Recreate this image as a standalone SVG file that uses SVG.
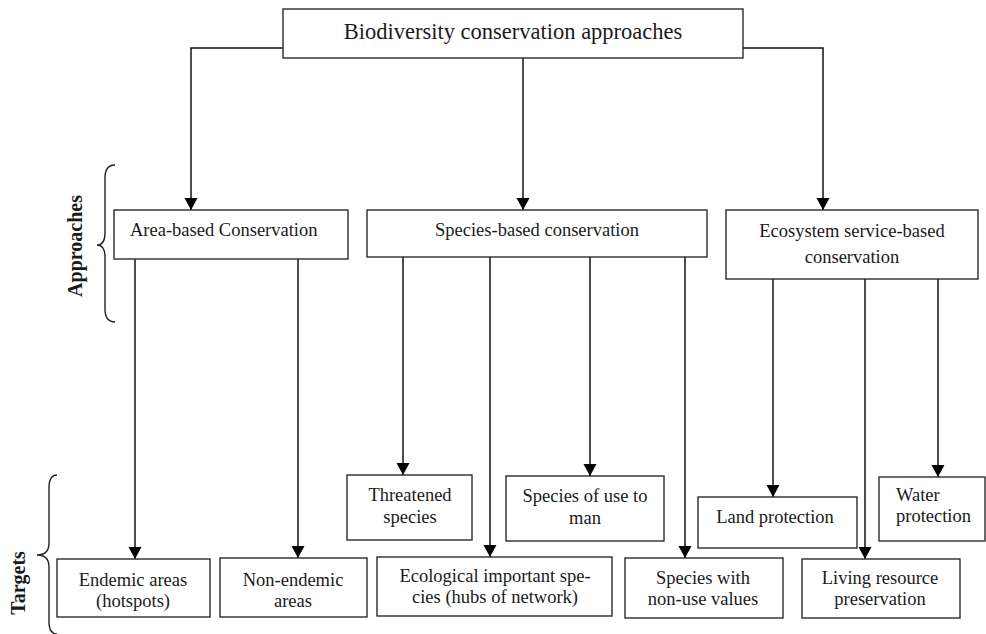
<svg xmlns="http://www.w3.org/2000/svg" width="986" height="634" viewBox="0 0 986 634">
  <style>
    .box { fill: #ffffff; stroke: #2b2b2b; stroke-width: 1.4; }
    .lbl { font-family: "Liberation Serif", "Times New Roman", serif; font-size: 18.5px; fill: #1a1a1a; }
    .mid { text-anchor: middle; }
    .title { font-size: 22.5px; }
    .side { font-family: "Liberation Serif", "Times New Roman", serif; font-size: 20px; font-weight: bold; fill: #1a1a1a; text-anchor: middle; }
    .wire { fill: none; stroke: #111111; stroke-width: 1.5; }
    .brace { fill: none; stroke: #222222; stroke-width: 1.4; }
  </style>
  <defs>
    <marker id="arrow" markerUnits="userSpaceOnUse" markerWidth="14" markerHeight="14" refX="12" refY="6.5" orient="auto">
      <path d="M0,0 L12,6.5 L0,13 Z" fill="#000000"/>
    </marker>
  </defs>

  <rect width="986" height="634" fill="#ffffff"/>

  <!-- connectors -->
  <g id="connectors">
    <polyline class="wire" points="283,48 191,48 191,210" marker-end="url(#arrow)"/>
    <polyline class="wire" points="743,48 823,48 823,210" marker-end="url(#arrow)"/>
    <line class="wire" x1="523" y1="58" x2="523" y2="210" marker-end="url(#arrow)"/>

    <line class="wire" x1="135" y1="259" x2="135" y2="559" marker-end="url(#arrow)"/>
    <line class="wire" x1="298" y1="259" x2="298" y2="558" marker-end="url(#arrow)"/>

    <line class="wire" x1="403" y1="257" x2="403" y2="475" marker-end="url(#arrow)"/>
    <line class="wire" x1="490" y1="257" x2="490" y2="557" marker-end="url(#arrow)"/>
    <line class="wire" x1="590" y1="257" x2="590" y2="476" marker-end="url(#arrow)"/>
    <line class="wire" x1="685" y1="257" x2="685" y2="558" marker-end="url(#arrow)"/>

    <line class="wire" x1="773" y1="279" x2="773" y2="497" marker-end="url(#arrow)"/>
    <line class="wire" x1="865" y1="279" x2="865" y2="559" marker-end="url(#arrow)"/>
    <line class="wire" x1="938" y1="279" x2="938" y2="477" marker-end="url(#arrow)"/>
  </g>

  <!-- root -->
  <g id="root">
    <rect class="box" x="283" y="9" width="460" height="49"/>
    <text class="lbl title mid" x="513" y="39">Biodiversity conservation approaches</text>
  </g>

  <!-- approaches -->
  <g id="area-based">
    <rect class="box" x="114" y="210" width="234" height="49"/>
    <text class="lbl" x="130" y="236">Area-based Conservation</text>
  </g>
  <g id="species-based">
    <rect class="box" x="367" y="210" width="340" height="47"/>
    <text class="lbl mid" x="537" y="236">Species-based conservation</text>
  </g>
  <g id="ecosystem-based">
    <rect class="box" x="726" y="210" width="252" height="69"/>
    <text class="lbl mid" x="852" y="237">Ecosystem service-based</text>
    <text class="lbl mid" x="852" y="263">conservation</text>
  </g>

  <!-- targets -->
  <g id="threatened">
    <rect class="box" x="347" y="475" width="125" height="65"/>
    <text class="lbl mid" x="410" y="501">Threatened</text>
    <text class="lbl mid" x="410" y="523">species</text>
  </g>
  <g id="use-to-man">
    <rect class="box" x="506" y="476" width="158" height="65"/>
    <text class="lbl mid" x="585" y="502">Species of use to</text>
    <text class="lbl mid" x="585" y="524">man</text>
  </g>
  <g id="land">
    <rect class="box" x="698" y="497" width="159" height="51"/>
    <text class="lbl mid" x="775" y="523">Land protection</text>
  </g>
  <g id="water">
    <rect class="box" x="879" y="477" width="106" height="64"/>
    <text class="lbl" x="896" y="501">Water</text>
    <text class="lbl" x="896" y="522">protection</text>
  </g>
  <g id="endemic">
    <rect class="box" x="57" y="559" width="153" height="58"/>
    <text class="lbl mid" x="133" y="586">Endemic areas</text>
    <text class="lbl mid" x="133" y="607">(hotspots)</text>
  </g>
  <g id="non-endemic">
    <rect class="box" x="220" y="558" width="147" height="59"/>
    <text class="lbl mid" x="293" y="586">Non-endemic</text>
    <text class="lbl mid" x="293" y="607">areas</text>
  </g>
  <g id="ecological">
    <rect class="box" x="377" y="557" width="235" height="59"/>
    <text class="lbl mid" x="495" y="582">Ecological important spe-</text>
    <text class="lbl mid" x="495" y="603">cies (hubs of network)</text>
  </g>
  <g id="non-use">
    <rect class="box" x="625" y="558" width="158" height="60"/>
    <text class="lbl mid" x="703" y="584">Species with</text>
    <text class="lbl mid" x="703" y="605">non-use values</text>
  </g>
  <g id="living-resource">
    <rect class="box" x="802" y="559" width="158" height="59"/>
    <text class="lbl mid" x="880" y="584">Living resource</text>
    <text class="lbl mid" x="880" y="605">preservation</text>
  </g>

  <!-- side braces and level labels -->
  <g id="approaches-label">
    <path class="brace" d="M115,165 Q105,165 105,178 L105,233 Q105,245 97,245 Q105,245 105,257 L105,309 Q105,322 115,322"/>
    <text class="side" transform="translate(82,246) rotate(-90)">Approaches</text>
  </g>
  <g id="targets-label">
    <path class="brace" d="M57,475 Q49,475 49,488 L49,543 Q49,555 37,555 Q49,555 49,567 L49,622 Q49,634 57,634"/>
    <text class="side" transform="translate(25,583) rotate(-90)">Targets</text>
  </g>
</svg>
